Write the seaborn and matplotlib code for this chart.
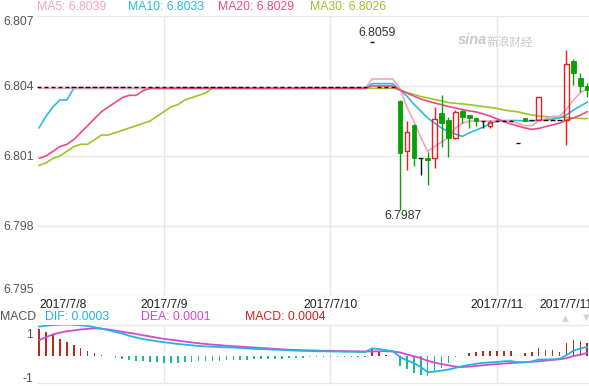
import numpy as np
import pandas as pd
import seaborn as sns
import matplotlib.pyplot as plt

W, H = 589, 386

# ---- data (one value per bar, 80 bars) ----
idx = list(range(80))

ma5 = ([6.8039] * 48 + [6.8043] * 4 +
       [6.8039, 6.8031, 6.8025, 6.8018, 6.8012, 6.8014, 6.8016, 6.8018, 6.8022, 6.8024,
        6.8025, 6.8025, 6.8025, 6.8025, 6.8025, 6.8025, 6.8025, 6.8024, 6.8023, 6.8023,
        6.8025, 6.8026, 6.8027, 6.8027, 6.8030, 6.8034, 6.8037, 6.8039])
ma10 = ([6.8022, 6.8027, 6.8031, 6.8034, 6.8034, 6.8039] + [6.8039] * 42 + [6.8041] * 4 +
        [6.80383, 6.80357, 6.80323, 6.80293, 6.80263, 6.80241, 6.80220, 6.80203, 6.80194, 6.80184,
         6.80199, 6.80211, 6.80224, 6.80239, 6.80250, 6.80252, 6.80252, 6.80252, 6.80250, 6.80250,
         6.80254, 6.80256, 6.80258, 6.80263, 6.80276, 6.80297, 6.80314, 6.80331])
ma20 = ([6.8009, 6.8010, 6.8012, 6.8014, 6.8015, 6.8017, 6.8020, 6.8023, 6.8026, 6.8029,
         6.8031, 6.8033, 6.8035, 6.8036, 6.8036, 6.8038, 6.8039] + [6.8039] * 31 + [6.8040] * 4 +
        [6.80383, 6.80370, 6.80357, 6.80344, 6.80336, 6.80327, 6.80320, 6.80312, 6.80306, 6.80299,
         6.80293, 6.80289, 6.80280, 6.80271, 6.80259, 6.80248, 6.80237, 6.80229, 6.80220, 6.80214,
         6.80218, 6.80226, 6.80233, 6.80241, 6.80254, 6.80263, 6.80275, 6.80290])
ma30 = ([6.8006, 6.8007, 6.8009, 6.8010, 6.8012, 6.8014, 6.8015, 6.8015, 6.8017, 6.8019,
         6.8019, 6.8020, 6.8021, 6.8022, 6.8023, 6.8024, 6.8025, 6.8027, 6.8029, 6.8031,
         6.8032, 6.8034, 6.8035, 6.8036, 6.8037, 6.8039] + [6.8039] * 26 +
        [6.80383, 6.80372, 6.80364, 6.80355, 6.80349, 6.80342, 6.80336, 6.80329, 6.80326, 6.80323,
         6.80320, 6.80316, 6.80312, 6.80308, 6.80304, 6.80297, 6.80293, 6.80289, 6.80282, 6.80276,
         6.80271, 6.80269, 6.80267, 6.80266, 6.80265, 6.80263, 6.80261, 6.80260])

# weekend: flat one-tick bars, then the Monday session
quiet = [6.80396] * 48 + [6.8059] + [6.80396] * 3
opens = quiet + [6.80337, 6.80121, 6.80233, 6.80090, 6.80093, 6.80090, 6.80286, 6.80254, 6.80179, 6.80293,
                 6.80276, 6.80262, 6.80251, 6.80229, 6.80251, 6.80251, 6.80251, 6.80155, 6.80262, 6.80254,
                 6.80254, 6.80254, 6.80254, 6.80254, 6.80254, 6.80507, 6.80433, 6.80402]
highs = quiet + [6.80340, 6.80251, 6.80236, 6.80090, 6.80118, 6.80311, 6.80361, 6.80268, 6.80297, 6.80301,
                 6.80276, 6.80262, 6.80251, 6.80254, 6.80254, 6.80254, 6.80254, 6.80155, 6.80262, 6.80254,
                 6.80352, 6.80254, 6.80254, 6.80254, 6.80554, 6.80514, 6.80454, 6.80413]
lows = quiet + [6.79870, 6.80040, 6.80057, 6.80019, 6.79976, 6.80047, 6.80139, 6.80097, 6.80172, 6.80241,
                6.80222, 6.80230, 6.80219, 6.80219, 6.80248, 6.80248, 6.80248, 6.80155, 6.80251, 6.80254,
                6.80254, 6.80254, 6.80254, 6.80254, 6.80147, 6.80404, 6.80374, 6.80351]
closes = quiet + [6.80112, 6.80205, 6.80090, 6.80090, 6.80082, 6.80257, 6.80243, 6.80179, 6.80287, 6.80268,
                  6.80264, 6.80252, 6.80251, 6.80247, 6.80251, 6.80251, 6.80251, 6.80155, 6.80251, 6.80254,
                  6.80352, 6.80254, 6.80254, 6.80254, 6.80494, 6.80454, 6.80402, 6.80385]

dif = [1.30, 1.34, 1.37, 1.39, 1.40, 1.39, 1.36, 1.33, 1.27, 1.21,
       1.14, 1.06, 0.99, 0.89, 0.81, 0.74, 0.69, 0.64, 0.60, 0.56,
       0.52, 0.49, 0.46, 0.43, 0.41, 0.40, 0.38, 0.37, 0.36, 0.34,
       0.32, 0.30, 0.29, 0.28, 0.26, 0.25, 0.23, 0.22, 0.21, 0.20,
       0.19, 0.19, 0.18, 0.18, 0.17, 0.17, 0.16, 0.16, 0.32, 0.29,
       0.24, 0.19, -0.06, -0.22, -0.34, -0.52, -0.75, -0.72, -0.68, -0.63,
       -0.56, -0.48, -0.42, -0.37, -0.33, -0.31, -0.29, -0.26, -0.25, -0.30,
       -0.31, -0.27, -0.18, -0.18, -0.17, -0.15, 0.01, 0.22, 0.31, 0.39]
dea = [0.69, 0.82, 0.95, 1.03, 1.09, 1.13, 1.17, 1.20, 1.22, 1.21,
       1.17, 1.12, 1.07, 1.02, 0.97, 0.91, 0.86, 0.80, 0.75, 0.71,
       0.67, 0.63, 0.59, 0.55, 0.52, 0.49, 0.47, 0.44, 0.42, 0.40,
       0.38, 0.36, 0.34, 0.32, 0.30, 0.28, 0.26, 0.25, 0.24, 0.23,
       0.22, 0.21, 0.21, 0.20, 0.20, 0.19, 0.19, 0.18, 0.18, 0.19,
       0.19, 0.18, 0.14, 0.05, -0.03, -0.12, -0.24, -0.32, -0.39, -0.44,
       -0.50, -0.52, -0.50, -0.47, -0.44, -0.41, -0.39, -0.36, -0.34, -0.32,
       -0.30, -0.28, -0.26, -0.23, -0.20, -0.17, -0.12, -0.03, 0.04, 0.11]
hist = [1.19, 1.06, 0.91, 0.76, 0.61, 0.46, 0.34, 0.20, 0.11, 0.02,
        -0.03, -0.09, -0.15, -0.21, -0.24, -0.27, -0.29, -0.30, -0.32, -0.32,
        -0.32, -0.30, -0.29, -0.27, -0.26, -0.24, -0.23, -0.21, -0.21, -0.20,
        -0.18, -0.17, -0.17, -0.15, -0.14, -0.14, -0.12, -0.12, -0.09, -0.08,
        -0.08, -0.08, -0.06, -0.06, -0.06, -0.06, -0.05, -0.05, 0.32, 0.17,
        0.03, -0.03, -0.47, -0.62, -0.79, -0.89, -0.93, -0.72, -0.57, -0.35,
        -0.08, 0.0, 0.135, 0.16, 0.19, 0.19, 0.20, 0.22, 0.20, 0.0,
        0.12, 0.15, 0.33, 0.26, 0.24, 0.18, 0.58, 0.69, 0.66, 0.58]

price_ticks = [6.795, 6.798, 6.801, 6.804, 6.807]
day_pos = [0, 18, 42, 66, 76]
day_labels = ["2017/7/8", "2017/7/9", "2017/7/10", "2017/7/11", "2017/7/11"]
day_lines = [18, 42, 66]

C_MA5, C_MA10, C_MA20, C_MA30 = "#f7a0c2", "#2bbbe0", "#ef4a80", "#9cc42c"
C_UP, C_DN = "#ee1c1c", "#07a007"
C_DIF, C_DEA, C_MACD = "#1db6e6", "#d648cf", "#d42020"
GRID = "#e8e8e8"

sns.set_theme(style="white")
plt.rcParams["font.family"] = ["Liberation Sans", "DejaVu Sans"]

fig = plt.figure(figsize=(W / 100, H / 100), dpi=100)
ax = fig.add_axes([37 / W, 90 / H, 552 / W, 280 / H])
axm = fig.add_axes([37 / W, 2.7 / H, 552 / W, 58.3 / H])

xlim = (-0.29, 79.25)

# ---- price panel ----
ax.set_xlim(*xlim)
ax.set_ylim(6.795, 6.807)
ax.set_yticks(price_ticks, [f"{v:.3f}" for v in price_ticks])
ax.yaxis.grid(True, color=GRID, lw=1)
for d in day_lines:
    ax.axvline(d, color=GRID, lw=1, zorder=0)
for s in ax.spines.values():
    s.set_visible(False)
ax.tick_params(axis="y", left=False, length=0, labelsize=8.8, labelcolor="#555555", pad=2)
ax.tick_params(axis="x", bottom=False, length=0, labelsize=8.8, labelcolor="#222222", pad=2)
ax.set_xticks(day_pos, day_labels)
ax.get_xticklabels()[0].set_ha("left")
for t in ax.get_yticklabels():
    if t.get_text() == "6.807":
        t.set_va("top")
    elif t.get_text() == "6.795":
        t.set_va("bottom")

for ys, col in [(ma30, C_MA30), (ma10, C_MA10), (ma5, C_MA5), (ma20, C_MA20)]:
    sns.lineplot(x=idx, y=ys, ax=ax, color=col, linewidth=1.2, zorder=2)

df = pd.DataFrame({"i": idx, "o": opens, "h": highs, "l": lows, "c": closes})
df["top"] = df[["o", "c"]].max(axis=1)
df["bot"] = df[["o", "c"]].min(axis=1)
up = df[df.c > df.o]
dn = df[df.c < df.o]
flat = df[df.c == df.o]
bw = 0.65

ax.vlines(up.i, up.top, up.h, color=C_UP, lw=1, zorder=3)
ax.vlines(up.i, up.l, up.bot, color=C_UP, lw=1, zorder=3)
ax.bar(up.i, up.c - up.o, bottom=up.o, width=bw, facecolor="none",
       edgecolor=C_UP, linewidth=1, zorder=3)
ax.vlines(dn.i, dn.l, dn.h, color=C_DN, lw=1, zorder=3)
ax.bar(dn.i, dn.c - dn.o, bottom=dn.o, width=bw, color=C_DN,
       edgecolor=C_DN, linewidth=0.6, zorder=3)
ax.vlines(flat.i, flat.l, flat.h, color="#111111", lw=1, zorder=3)
ax.hlines(flat.o, flat.i - bw / 2, flat.i + bw / 2, color="#111111", lw=1, zorder=3)

ax.set_xlabel("")
ax.set_ylabel("")

# ---- MACD panel ----
axm.set_xlim(*xlim)
axm.set_ylim(-1.252, 1.374)
axm.set_yticks([-1, 1], ["-1", "1"])
axm.set_xticks([])
for d in day_lines:
    axm.axvline(d, color=GRID, lw=1, zorder=0)
for k, s in axm.spines.items():
    s.set_visible(k in ("top", "bottom"))
    s.set_color(GRID)
    s.set_linewidth(1)
axm.tick_params(axis="y", left=False, length=0, labelsize=8.8, labelcolor="#555555", pad=3)
bar_cols = ["#b82a1e" if v > 0 else "#1fb98c" for v in hist]
axm.bar(idx, hist, width=0.23, color=bar_cols, linewidth=0, zorder=2)
sns.lineplot(x=idx, y=dea, ax=axm, color=C_DEA, linewidth=1.3, zorder=3)
sns.lineplot(x=idx, y=dif, ax=axm, color=C_DIF, linewidth=1.3, zorder=3)
axm.set_xlabel("")
axm.set_ylabel("")


def px(x, y):
    return x / W, 1 - y / H


fs = 8.8
for x, txt, col in [(37, "MA5: 6.8039", C_MA5), (128, "MA10: 6.8033", C_MA10),
                    (218, "MA20: 6.8029", C_MA20), (310, "MA30: 6.8026", C_MA30)]:
    fig.text(*px(x, 7), txt, color=col, fontsize=fs, va="center", ha="left")

for x, txt, col in [(0, "MACD", "#555555"), (45, "DIF: 0.0003", C_DIF),
                    (141, "DEA: 0.0001", C_DEA), (245, "MACD: 0.0004", C_MACD)]:
    fig.text(*px(x, 317), txt, color=col, fontsize=fs, va="center", ha="left")

fig.text(*px(377, 33), "6.8059", color="#333333", fontsize=fs, ha="center", va="center")
fig.text(*px(403, 216), "6.7987", color="#333333", fontsize=fs, ha="center", va="center")

# watermark
fig.text(*px(458, 40), "sina", color="#c8c8c8", fontsize=10.5, style="italic",
         weight="bold", ha="left", va="center")
fig.text(*px(487, 42), "新浪财经", color="#c8c8c8", fontsize=8.4, ha="left", va="center",
         family=["Noto Sans CJK SC", "DejaVu Sans"])

fig.text(*px(565, 318), "▲", color="#d6d6d6", fontsize=6.5, ha="center", va="center",
         family=["DejaVu Sans"])
fig.text(*px(586, 317), "▼", color="#d6d6d6", fontsize=6.5, ha="center", va="center",
         family=["DejaVu Sans"])

fig.savefig("out.png", dpi=100)
plt.close(fig)
